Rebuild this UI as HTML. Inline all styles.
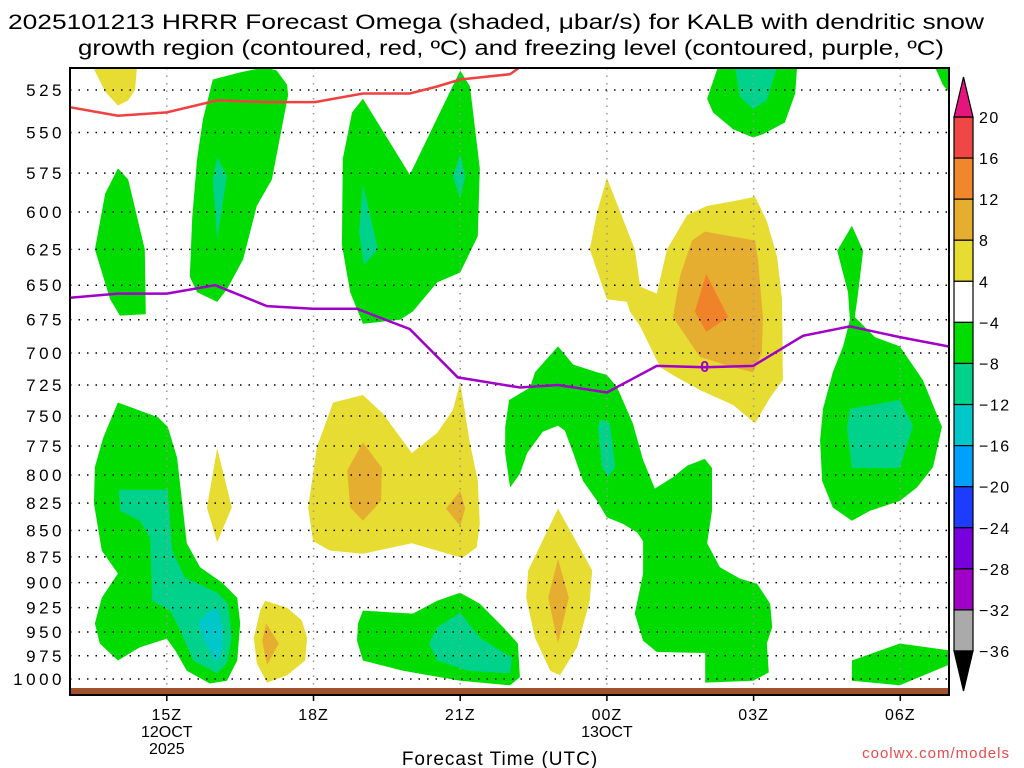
<!DOCTYPE html>
<html><head><meta charset="utf-8"><style>
body{margin:0;background:#fff;}
svg{display:block;font-family:"Liberation Sans",sans-serif;}
</style></head><body>
<svg id="chart" width="1024" height="768" viewBox="0 0 1024 768">
<rect width="1024" height="768" fill="#fff"/>
<text x="8" y="29" font-size="21" textLength="976" lengthAdjust="spacingAndGlyphs">2025101213 HRRR Forecast Omega (shaded, μbar/s) for KALB with dendritic snow</text>
<text x="78" y="55" font-size="21" textLength="866" lengthAdjust="spacingAndGlyphs">growth region (contoured, red, ºC) and freezing level (contoured, purple, ºC)</text>
<defs><clipPath id="plotclip"><rect x="70" y="68" width="879" height="622"/></clipPath></defs>
<g id="fills" clip-path="url(#plotclip)"></g>
<g id="grid"></g>
<rect x="70" y="688" width="879" height="6" fill="#a0522d"/>
<g id="lines" clip-path="url(#plotclip)"></g>
<rect x="70" y="68" width="879" height="627" fill="none" stroke="#000" stroke-width="2"/>
<g id="yaxis"></g>
<g id="xaxis"></g>
<text x="500" y="765" font-size="19" text-anchor="middle" letter-spacing="1">Forecast Time (UTC)</text>
<text x="1010" y="758" font-size="15" fill="#e84a4a" text-anchor="end" style="letter-spacing:1px">coolwx.com/models</text>
<g id="cbar"></g>
</svg>
<script>
const NS="http://www.w3.org/2000/svg";
const pLevels=[525,550,575,600,625,650,675,700,725,750,775,800,825,850,875,900,925,950,975,1000];
const xTickHours=[15,18,21,24,27,30];
const xTickLabels=["15Z","18Z","21Z","00Z","03Z","06Z"];
const xDateLabels={15:["12OCT","2025"],24:["13OCT"]};
const cbLevels=[20,16,12,8,4,-4,-8,-12,-16,-20,-24,-28,-32,-36];
const cbColors=["#f04646","#f0872d","#e6ae30","#e6dc32","#ffffff","#00dc00","#00d28c","#00c8c8","#00a0ff","#1e3cff","#7800dc","#a000c8","#aaaaaa"];
const COL={g:"#00dc00",t:"#00d28c",c:"#00c8c8",y:"#e6dc32",o:"#e6ae30",r:"#f0822a"};
const regions=[
["y",[[13.49,512],[14.39,512],[14.35,525],[14.21,531],[14.0,534],[13.74,526]]],
["g",[[14.0,572],[14.21,579],[14.55,625],[14.57,671],[14.04,672],[13.84,660],[13.53,625],[13.74,588]]],
["g",[[15.94,519],[16.5,515],[17.01,512],[17.25,514],[17.46,522],[17.48,528],[17.15,579],[16.84,596],[16.56,632],[16.23,653],[16.03,662],[15.62,655],[15.47,644],[15.52,604],[15.62,566],[15.74,542]]],
["t",[[16.03,565],[16.23,577],[16.03,618],[15.94,579]]],
["g",[[19.01,530],[19.97,576],[21.0,514],[21.2,523],[21.4,572],[21.36,616],[21.0,641],[20.53,648],[20.03,669],[19.77,675],[19.01,678],[18.75,655],[18.58,622],[18.6,566],[18.79,538]]],
["t",[[19.01,582],[19.32,625],[19.03,636],[18.93,613]]],
["t",[[21.0,563],[21.1,577],[21.0,591],[20.85,577]]],
["g",[[26.27,512],[27.89,512],[27.85,527],[27.64,544],[27.19,551],[26.99,553],[26.58,548],[26.17,538],[26.05,530]]],
["t",[[26.62,512],[27.48,512],[27.27,531],[26.99,536],[26.72,529]]],
["g",[[30.71,512],[31.02,512],[31.02,527],[30.87,522]]],
["y",[[24.0,578],[24.57,625],[24.68,651],[25.02,656],[25.23,625],[25.64,602],[26.05,596],[26.58,593],[27.03,590],[27.27,606],[27.48,630],[27.58,660],[27.6,721],[27.34,735],[27.03,756],[26.58,741],[25.9,729],[25.43,719],[25.09,711],[24.68,680],[24.47,669],[24.41,662],[24.0,660],[23.65,625],[23.8,600]]],
["o",[[26.0,613],[27.03,619],[27.09,632],[27.19,673],[27.17,700],[26.99,715],[26.58,711],[25.9,703],[25.35,673],[25.5,643],[25.74,619]]],
["r",[[26.03,642],[26.48,673],[26.03,684],[25.8,669]]],
["g",[[29.01,609],[29.24,626],[29.14,655],[29.07,673],[29.48,688],[29.99,695],[30.46,721],[30.85,759],[30.67,793],[30.34,811],[29.99,823],[29.38,832],[29.01,841],[28.62,829],[28.4,805],[28.36,770],[28.42,744],[28.62,715],[28.83,695],[28.97,675],[28.93,655],[28.71,626]]],
["t",[[28.97,744],[29.99,737],[30.26,758],[29.99,794],[29.01,794],[28.91,760]]],
["g",[[22.02,811],[21.92,781],[21.92,759],[22.0,737],[22.43,727],[22.53,715],[23.0,695],[23.31,709],[23.8,715],[24.0,717],[24.21,727],[24.53,756],[24.74,787],[24.98,812],[25.35,802],[25.64,792],[26.0,786],[26.15,794],[26.15,832],[26.05,862],[26.31,885],[26.72,896],[27.07,901],[27.34,921],[27.38,945],[27.27,962],[27.31,993],[26.99,1002],[26.01,1004],[26.01,972],[25.02,971],[24.74,959],[24.57,931],[24.74,891],[24.74,860],[24.62,852],[24.33,844],[24.0,838],[23.8,823],[23.51,805],[23.31,781],[23.14,762],[23.0,758],[22.69,763],[22.37,781],[22.22,799]]],
["t",[[23.86,753],[24.06,756],[24.17,793],[24.02,802],[23.9,793],[23.82,760]]],
["y",[[23.0,830],[23.7,888],[23.65,918],[23.39,966],[23.04,996],[22.84,991],[22.53,956],[22.35,915],[22.39,888]]],
["o",[[23.0,877],[23.22,915],[23.0,962],[22.8,915]]],
["g",[[29.01,980],[29.99,962],[30.98,969],[30.98,985],[29.99,1007],[29.01,1002]]],
["g",[[14.0,739],[14.82,751],[15.02,759],[15.21,785],[15.41,862],[15.68,885],[16.13,900],[16.44,915],[16.5,941],[16.44,980],[16.23,1002],[15.88,1005],[15.41,991],[15.17,969],[15.0,957],[14.45,966],[14.0,980],[13.63,962],[13.53,941],[13.67,915],[14.0,891],[13.67,869],[13.51,825],[13.53,793],[13.7,768]]],
["t",[[14.02,813],[15.02,813],[15.11,869],[15.37,895],[16.03,910],[16.25,921],[16.33,956],[16.23,983],[16.03,994],[15.54,980],[15.27,948],[15.07,928],[14.7,918],[14.66,857],[14.45,841],[14.04,832]]],
["c",[[15.88,928],[16.05,926],[16.15,948],[16.13,969],[16.01,983],[15.74,956],[15.64,940]]],
["y",[[16.03,777],[16.33,829],[16.03,861],[15.82,829]]],
["y",[[17.01,918],[17.46,925],[17.76,938],[17.87,956],[17.83,980],[17.46,996],[17.05,1004],[16.84,983],[16.78,956],[16.91,928]]],
["o",[[17.03,941],[17.29,962],[17.05,985],[16.95,959]]],
["y",[[18.4,739],[19.01,733],[19.42,748],[20.01,781],[20.53,764],[20.85,745],[21.0,723],[21.2,773],[21.36,805],[21.4,844],[21.34,866],[21.04,876],[20.53,869],[20.01,862],[19.01,872],[18.34,869],[17.99,860],[17.89,829],[18.07,776]]],
["o",[[19.01,772],[19.4,794],[19.38,823],[19.01,841],[18.75,829],[18.69,796]]],
["o",[[21.0,814],[21.1,830],[21.0,846],[20.71,830]]],
["g",[[19.01,928],[20.03,931],[20.53,918],[21.0,910],[21.4,921],[21.88,945],[22.18,962],[22.22,998],[22.02,1007],[21.0,1002],[19.83,991],[19.01,980],[18.89,959],[18.91,941]]],
["t",[[21.0,930],[21.4,956],[22.06,977],[22.02,994],[21.16,991],[20.53,980],[20.36,962],[20.53,945]]]
];
const snowHours=[13.02,14.0,15.0,16.03,17.05,18.03,19.01,19.97,20.53,21.0,22.02,22.22];
const snowP=[535,540,538,531,532,532,527,527,523,519,516,512];
const frzHours=[13.02,14.0,15.0,15.99,17.05,17.99,18.89,19.97,20.95,22.22,23.0,24.0,25.02,26.01,26.99,28.01,28.97,29.99,30.98];
const frzP=[659,656,656,650,665,667,667,682,719,727,725,731,710,711,710,687,680,688,695];

const X=h=>69+(h-13)*48.9;
const Y=p=>90+914*Math.log(p/525);
function mk(tag,attrs,parent){const e=document.createElementNS(NS,tag);for(const k in attrs)e.setAttribute(k,attrs[k]);parent.appendChild(e);return e;}
const fills=document.getElementById('fills');
regions.forEach((r,i)=>{
  const pts=r[1].map(v=>X(v[0]).toFixed(1)+","+Y(v[1]).toFixed(1)).join(" ");
  const el=mk('polygon',{points:pts,fill:COL[r[0]]},fills);
  
  
});
const grid=document.getElementById('grid');
pLevels.forEach(p=>{
  const el=mk('line',{x1:70,x2:949,y1:Y(p),y2:Y(p),stroke:"#000","stroke-width":1.5,"stroke-dasharray":"1.5 7"},grid);
  
  
});
xTickHours.forEach(h=>{
  const el=mk('line',{x1:X(h),x2:X(h),y1:68,y2:688,stroke:"#999","stroke-width":1.5,"stroke-dasharray":"1.5 6"},grid);
  
  
});
const lines=document.getElementById('lines');
function poly(hs,ps,color,name){
  const pts=hs.map((h,i)=>X(h).toFixed(1)+","+Y(ps[i]).toFixed(1)).join(" ");
  const el=mk('polyline',{points:pts,fill:"none",stroke:color,"stroke-width":2.5},lines);
  
  
}
poly(snowHours,snowP,"#f04040","dendritic-growth-line");
poly(frzHours,frzP,"#a000c8","freezing-level-line");
const lbl=mk('text',{x:X(26.0),y:Y(710)+6,"font-size":16,"font-weight":"bold",fill:"#a000c8","text-anchor":"middle"},lines);
lbl.textContent="0";


const ya=document.getElementById('yaxis');
pLevels.forEach(p=>{
  const t=mk('text',{x:65,y:Y(p)+6,"font-size":17,"text-anchor":"end","letter-spacing":"3.5"},ya);
  t.textContent=p;
  
  
});
const xa=document.getElementById('xaxis');
xTickHours.forEach((h,i)=>{
  const tk=mk('line',{x1:X(h),x2:X(h),y1:694,y2:701,stroke:"#000","stroke-width":1.5},xa);
  
  
  const t=mk('text',{x:X(h),y:720,"font-size":16,"text-anchor":"middle","letter-spacing":"1"},xa);
  t.textContent=xTickLabels[i];
  
  
  (xDateLabels[h]||[]).forEach((s,j)=>{
    const d=mk('text',{x:X(h),y:737+j*17,"font-size":16,"text-anchor":"middle"},xa);
    d.textContent=s;
    
    
  });
});
const cb=document.getElementById('cbar');
const cbTop=117,cbStep=(651-117)/13;
cbColors.forEach((c,i)=>{
  const r=mk('rect',{x:954,y:cbTop+i*cbStep,width:19,height:cbStep,fill:c,stroke:"#000","stroke-width":1.2},cb);
  
  
});
const tu=mk('polygon',{points:"954,117 973,117 963.5,77",fill:"#e6147d",stroke:"#000","stroke-width":1.2},cb);


const td=mk('polygon',{points:"954,651 973,651 963.5,691",fill:"#000",stroke:"#000","stroke-width":1.2},cb);


cbLevels.forEach((v,i)=>{
  const t=mk('text',{x:979,y:cbTop+i*cbStep+6,"font-size":16,"letter-spacing":"1.5"},cb);
  t.textContent=v<0?"\u2212"+(-v):String(v);
  
  
});
</script>
</body></html>
